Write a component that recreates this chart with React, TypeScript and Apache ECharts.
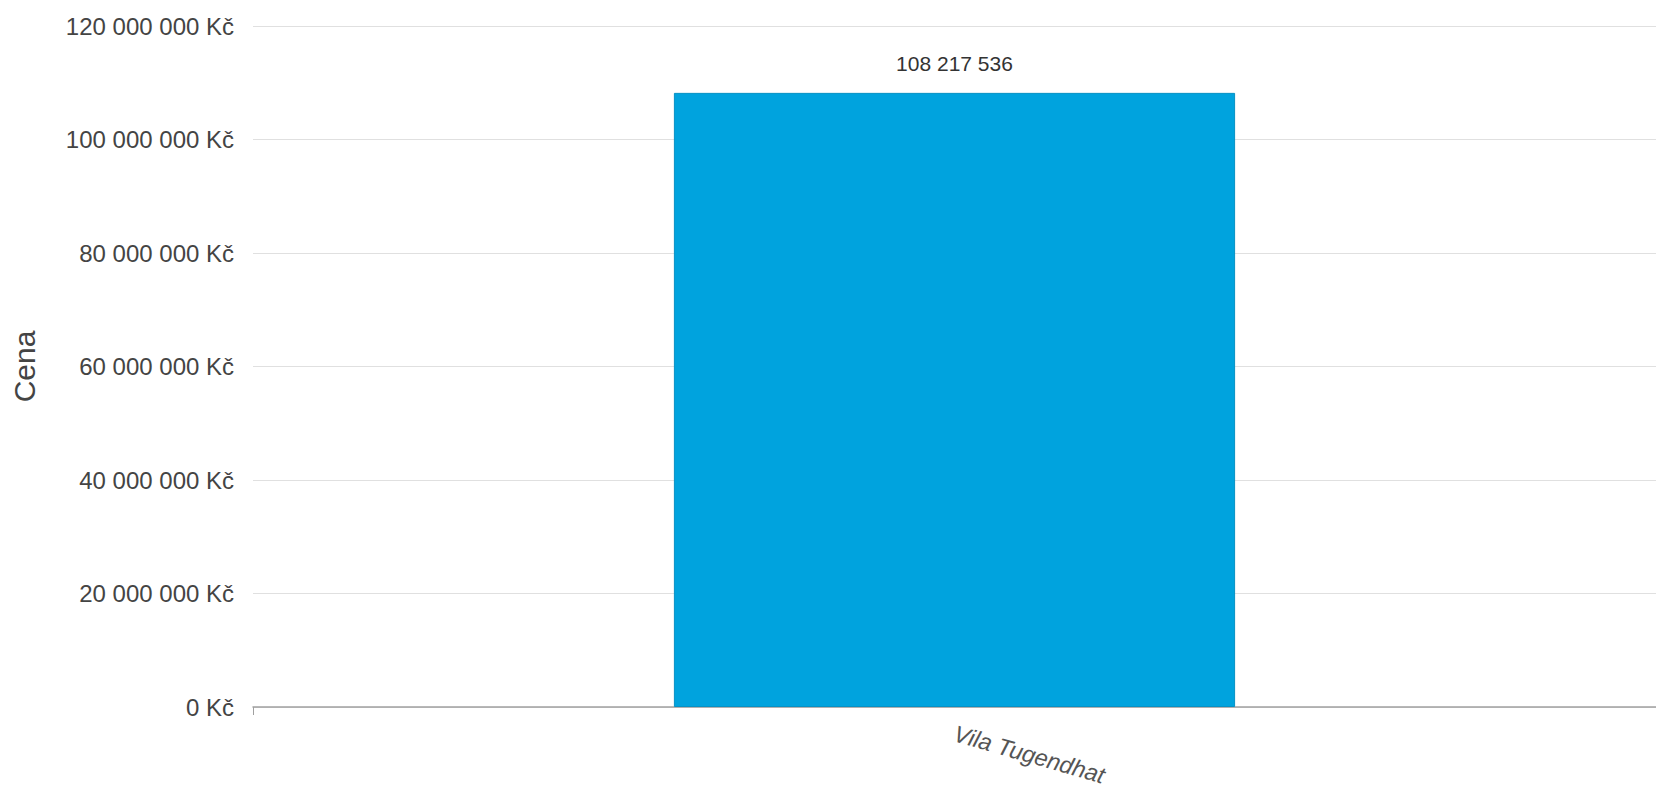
import React, { useEffect, useRef } from "react";
import * as echarts from "echarts";

const categories = ["Vila Tugendhat"];
const prices = [108217536];
const yMin = 0;
const yMax = 120000000;
const yInterval = 20000000;

const fmtNum = (v: number) => String(Math.round(v)).replace(/\B(?=(\d{3})+(?!\d))/g, " ");

export default function App() {
  const ref = useRef<HTMLDivElement>(null);
  useEffect(() => {
    document.body.style.margin = "0";
    const chart = echarts.init(ref.current!, null, { renderer: "svg" });
    chart.setOption({
      animation: false,
      textStyle: { fontFamily: "Liberation Sans, Arial, sans-serif" },
      grid: { left: 253, right: 0, top: 26, bottom: 83 },
      xAxis: {
        type: "category",
        data: categories,
        boundaryGap: true,
        axisLine: { lineStyle: { color: "#a0a0a0", width: 1.5 } },
        axisTick: { show: true, length: 8, lineStyle: { color: "#a0a0a0" } },
        axisLabel: {
          rotate: -16,
          fontStyle: "italic",
          fontSize: 23.5,
          color: "#555",
          margin: 26,
        },
      },
      yAxis: {
        type: "value",
        min: yMin,
        max: yMax,
        interval: yInterval,
        name: "Cena",
        nameLocation: "middle",
        nameGap: 214,
        nameTextStyle: { fontSize: 30, color: "#444" },
        axisLine: { show: false },
        axisTick: { show: false },
        splitLine: { lineStyle: { color: "#e0e0e0", width: 1 } },
        axisLabel: {
          fontSize: 24,
          color: "#444",
          margin: 19,
          formatter: (v: number) => fmtNum(v) + " Kč",
        },
      },
      series: [
        {
          type: "bar",
          data: prices,
          barWidth: "40%",
          itemStyle: { color: "#00A3DE", borderColor: "#0791c4", borderWidth: 1 },
          label: {
            show: true,
            position: "top",
            distance: 19,
            fontSize: 21,
            color: "#333",
            formatter: (p: any) => fmtNum(p.value),
          },
        },
      ],
    });
    return () => chart.dispose();
  }, []);
  return <div ref={ref} style={{ width: 1656, height: 790 }} />;
}
